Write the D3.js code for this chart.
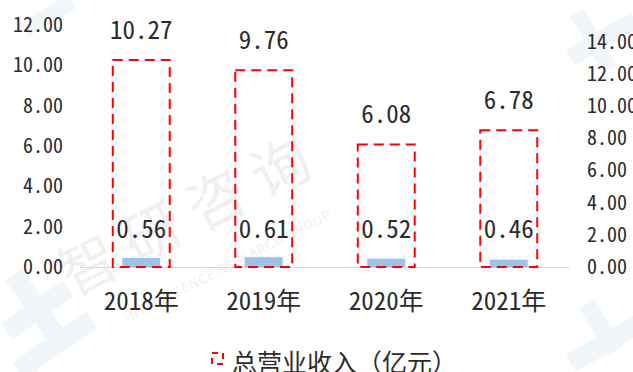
<!DOCTYPE html>
<html>
<head>
<meta charset="utf-8">
<script src="https://cdn.jsdelivr.net/npm/d3@7/dist/d3.min.js"></script>
<style>
  html, body { margin: 0; padding: 0; background: #fff; }
  svg { display: block; }
  text { font-family: "Noto Sans CJK SC", "DejaVu Sans", sans-serif; font-feature-settings: "hwid" 1; fill: #2b2b2b; }
  text.full { font-feature-settings: normal; }
</style>
</head>
<body>
<svg id="chart" width="633" height="372"></svg>
<script>
// Annual figures (亿元)
const categories = ["2018年", "2019年", "2020年", "2021年"];
const revenue = [10.27, 9.76, 6.08, 6.78];          // 总营业收入, left axis
const secondaryValues = [0.56, 0.61, 0.52, 0.46];   // right axis
const leftTicks = [0, 2, 4, 6, 8, 10, 12];
const rightTicks = [0, 2, 4, 6, 8, 10, 12, 14];
const legendLabel = "总营业收入（亿元）";

const svg = d3.select("#chart");
const W = 633, H = 372;
const plot = { left: 80, right: 570, top: 25, bottom: 267 };

svg.append("rect").attr("width", W).attr("height", H).attr("fill", "#fff");

// faint brand watermark
const wm = svg.append("g").attr("pointer-events", "none");
const shapeColor = "#f1f6fb";
[
  [0, 300, 75, 20, -35], [10, 335, 90, 20, -35], [25, 268, 20, 75, -35],
  [20, 8, 55, 16, -30], [565, 30, 75, 18, -30], [585, 8, 16, 65, -30],
  [565, 332, 85, 20, -30], [592, 300, 18, 55, -30]
].forEach(([x, y, w, h, a]) => {
  wm.append("rect").attr("x", x).attr("y", y).attr("width", w).attr("height", h)
    .attr("fill", shapeColor)
    .attr("transform", `rotate(${a},${x + w / 2},${y + h / 2})`);
});
wm.append("text")
  .attr("class", "full")
  .attr("transform", "translate(200,232) rotate(-27)")
  .attr("text-anchor", "middle")
  .style("font-size", "58px")
  .style("letter-spacing", "14px")
  .style("fill", "#f0f0f0")
  .text("智研咨询");
wm.append("text")
  .attr("class", "full")
  .attr("transform", "translate(230,270) rotate(-27)")
  .attr("text-anchor", "middle")
  .style("font-size", "13px")
  .style("letter-spacing", "1px")
  .style("fill", "#efefef")
  .text("INTELLIGENCE RESEARCH GROUP");

const x = d3.scaleBand().domain(categories).range([plot.left, plot.right]);
const yL = d3.scaleLinear().domain([0, 12]).range([plot.bottom, plot.top]);
const yR = d3.scaleLinear().domain([0, 14]).range([plot.bottom, 42]);
const fmt = d3.format(".2f");

// left axis
const gL = svg.append("g").attr("transform", `translate(${plot.left},0)`)
  .call(d3.axisLeft(yL).tickValues(leftTicks).tickFormat(fmt).tickSize(0).tickPadding(17));
gL.select(".domain").remove();
gL.selectAll("text").style("font-size", "20px").style("font-family", null).attr("fill", null);

// right axis
const gR = svg.append("g").attr("transform", `translate(${plot.right},0)`)
  .call(d3.axisRight(yR).tickValues(rightTicks).tickFormat(fmt).tickSize(0).tickPadding(17));
gR.select(".domain").remove();
gR.selectAll("text").style("font-size", "20px").style("font-family", null).attr("fill", null);

// category axis
svg.append("line")
  .attr("x1", plot.left).attr("x2", plot.right)
  .attr("y1", plot.bottom + 0.5).attr("y2", plot.bottom + 0.5)
  .attr("stroke", "#d9d9d9").attr("stroke-width", 1.2);

svg.append("g").selectAll("text").data(categories).join("text")
  .attr("x", d => x(d) + x.bandwidth() / 2)
  .attr("y", 310)
  .attr("text-anchor", "middle")
  .style("font-size", "25px")
  .text(d => d);

// secondary bars (right axis)
const barW = x.bandwidth() * 0.31;
svg.append("g").selectAll("rect").data(secondaryValues).join("rect")
  .attr("x", (d, i) => x(categories[i]) + (x.bandwidth() - barW) / 2)
  .attr("y", d => yR(d))
  .attr("width", barW)
  .attr("height", d => yR(0) - yR(d))
  .attr("fill", "#9dc3e6");

// revenue bars: dashed outline only (left axis)
const boxW = x.bandwidth() * 0.465;
svg.append("g").selectAll("rect").data(revenue).join("rect")
  .attr("x", (d, i) => x(categories[i]) + (x.bandwidth() - boxW) / 2)
  .attr("y", d => yL(d))
  .attr("width", boxW)
  .attr("height", d => yL(0) - yL(d))
  .attr("fill", "none")
  .attr("stroke", "#ff0000")
  .attr("stroke-width", 2)
  .attr("stroke-dasharray", "10,6");

// value labels
svg.append("g").selectAll("text").data(revenue).join("text")
  .attr("x", (d, i) => x(categories[i]) + x.bandwidth() / 2)
  .attr("y", d => yL(d) - 21)
  .attr("text-anchor", "middle")
  .style("font-size", "25px")
  .text(d => fmt(d));

svg.append("g").selectAll("text").data(secondaryValues).join("text")
  .attr("x", (d, i) => x(categories[i]) + x.bandwidth() / 2)
  .attr("y", 238)
  .attr("text-anchor", "middle")
  .style("font-size", "25px")
  .text(d => fmt(d));

// legend
const lg = svg.append("g").attr("transform", "translate(212,353)");
lg.append("rect").attr("x", 0).attr("y", 0).attr("width", 11).attr("height", 11)
  .attr("fill", "none").attr("stroke", "#ff0000").attr("stroke-width", 2)
  .attr("stroke-dasharray", "6,5");
lg.append("text").attr("class", "full").attr("x", 20).attr("y", 19)
  .style("font-size", "25px")
  .text(legendLabel);
</script>
</body>
</html>
